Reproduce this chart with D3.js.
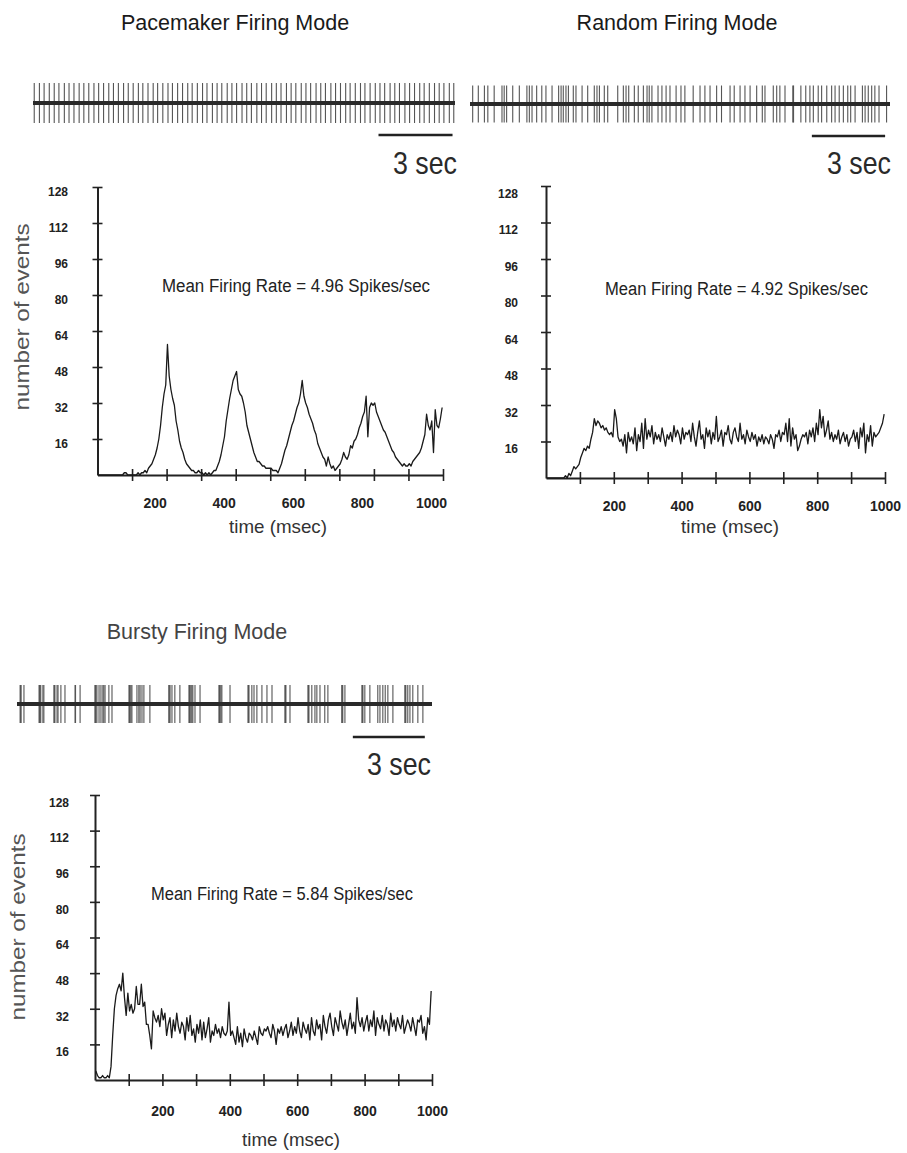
<!DOCTYPE html>
<html><head><meta charset="utf-8">
<script src="https://cdn.jsdelivr.net/npm/d3@7"></script>
<style>
body{margin:0;background:#fff}
svg{display:block}
text{font-family:'Liberation Sans',Arial,Helvetica,sans-serif;fill:#222}
</style>
</head><body>
<svg id="c" width="907" height="1153"></svg>
<script>
// ---------- DATA ----------
const titles = ["Pacemaker Firing Mode", "Random Firing Mode", "Bursty Firing Mode"];
const rateLabels = ["Mean Firing Rate = 4.96 Spikes/sec", "Mean Firing Rate = 4.92 Spikes/sec", "Mean Firing Rate = 5.84 Spikes/sec"];
const yTickValues = [16, 32, 48, 64, 80, 96, 112, 128];
const xTickValues = [100, 200, 300, 400, 500, 600, 700, 800, 900, 1000];
const xTickLabels = [200, 400, 600, 800, 1000];
const scaleBarSec = [14, 17];
const scaleBarLabel = "3 sec";
const xAxisTitle = "time (msec)";
const yAxisTitle = "number of events";

// spike times (seconds)
const pacemakerSpikes = [0.05,0.26,0.45,0.66,0.86,1.05,1.27,1.46,1.66,1.87,2.06,2.26,2.47,2.66,2.86,3.07,3.26,3.46,3.67,3.86,4.06,4.27,4.45,4.66,4.87,5.05,5.26,5.47,5.65,5.86,6.06,6.27,6.45,6.66,6.87,7.05,7.27,7.46,7.65,7.87,8.06,8.25,8.47,8.66,8.85,9.07,9.26,9.45,9.67,9.86,10.05,10.27,10.46,10.65,10.87,11.06,11.25,11.47,11.66,11.85,12.07,12.26,12.46,12.67,12.85,13.06,13.27,13.45,13.66,13.87,14.06,14.25,14.47,14.66,14.85,15.07,15.26,15.46,15.67,15.85,16.06,16.27,16.46,16.65,16.87,17.05];
const randomSpikes = [0.11,0.34,0.59,0.73,0.99,1.31,1.40,1.50,1.75,2.02,2.33,2.43,2.54,2.73,2.94,3.11,3.36,3.63,3.73,3.82,3.93,4.03,4.23,4.34,4.59,4.82,5.09,5.20,5.30,5.50,5.64,6.05,6.28,6.39,6.50,6.73,6.89,7.10,7.25,7.34,7.45,7.70,7.86,8.03,8.19,8.44,8.64,8.80,9.14,9.42,9.62,9.83,10.10,10.30,10.65,10.82,11.06,11.26,11.47,11.74,11.97,12.08,12.42,12.56,12.69,12.90,13.22,13.25,13.55,13.75,13.92,14.06,14.26,14.40,14.61,14.81,14.95,15.12,15.29,15.47,15.59,15.77,16.07,16.18,16.31,16.45,16.58,16.75,17.06];
const burstySpikes = [0.13,0.15,0.17,0.29,0.92,0.94,0.96,0.99,1.08,1.12,1.54,1.56,1.58,1.67,1.71,1.83,2.00,2.42,2.44,2.63,3.25,3.27,3.29,3.33,3.42,3.50,3.58,3.62,3.67,3.83,3.96,4.67,4.69,4.71,4.75,4.79,5.00,5.08,5.13,5.21,5.29,5.54,6.33,6.35,6.38,6.46,6.58,6.79,7.17,7.19,7.21,7.25,7.29,7.33,7.42,7.63,8.42,8.44,8.46,8.50,8.54,8.88,9.63,9.65,9.67,9.79,9.88,10.00,10.21,10.42,10.63,11.17,11.19,11.21,11.38,12.13,12.15,12.17,12.29,12.42,12.50,12.63,12.83,12.96,13.54,13.56,13.58,13.67,14.38,14.40,14.42,14.50,14.71,15.04,15.13,15.25,15.35,15.46,15.67,16.17,16.19,16.21,16.29,16.38,16.50,16.71,16.92];

// histogram counts, 5 ms bins from 0 to 1000 ms
const pacemakerCounts = [
0,0,0,0,0,0,0,0,0,0,0,0,0,0,0,1,1,0,0,0,
0,0,0,1,0,1,1,2,1,3,4,5,7,9,12,16,22,30,36,40,
58,44,38,34,31,24,20,15,12,10,7,5,4,3,2,2,1,1,2,1,
1,0,1,0,1,0,1,2,2,4,6,9,13,17,24,29,34,38,42,44,
46,38,36,35,32,28,22,19,16,13,10,8,6,6,5,4,4,3,3,3,
3,2,2,2,1,3,5,8,11,13,16,19,22,24,27,30,32,36,42,35,
32,30,27,25,23,20,18,14,12,10,8,7,4,8,5,3,4,2,3,4,
5,7,10,8,7,9,13,12,15,16,18,21,23,26,28,35,17,30,32,31,
32,28,26,24,22,20,19,17,15,13,11,10,8,7,6,5,4,5,4,4,
5,4,6,7,8,9,10,12,15,18,27,22,20,24,10,29,22,21,25,30];
const randomCounts = [
0,0,0,0,0,0,0,0,0,0,0,1,0,2,1,3,5,4,5,6,
9,11,13,12,14,13,17,20,26,23,25,24,22,23,21,22,20,19,20,18,
30,26,18,16,17,14,19,11,20,16,18,15,22,12,19,16,24,13,26,17,
21,18,23,15,20,17,19,16,22,18,14,19,17,20,16,23,18,21,19,15,
22,17,20,19,21,16,24,18,14,20,25,17,19,13,22,18,21,15,20,17,
27,16,18,21,14,20,19,23,17,15,20,22,18,16,24,17,19,15,21,18,
16,20,17,19,14,18,16,19,15,18,17,15,19,17,13,19,18,21,16,20,
19,24,16,26,14,22,17,19,12,14,17,19,18,20,15,21,18,22,16,24,
19,30,22,27,18,21,25,17,20,16,19,17,21,15,18,20,16,19,14,17,
18,21,16,20,13,22,18,24,11,19,16,23,14,20,18,19,20,22,24,28];
const burstyCounts = [
4,2,1,1,2,1,1,2,1,6,20,32,38,41,43,40,48,37,29,39,
31,34,30,32,42,34,34,43,33,35,25,25,20,14,31,28,26,29,24,32,
27,30,20,25,28,19,27,22,30,24,21,26,24,18,28,22,29,20,23,17,
25,21,27,18,26,19,23,28,17,22,20,25,21,23,19,24,21,20,22,35,
20,22,19,16,24,17,21,15,23,19,17,21,20,18,22,19,16,24,21,20,
23,22,24,21,19,25,22,16,23,21,24,20,23,25,19,22,26,20,24,21,
28,22,19,26,23,21,25,18,28,22,20,27,23,25,18,29,24,21,27,30,
24,20,28,25,22,31,26,23,27,20,25,30,23,26,21,37,27,24,28,22,
26,29,22,27,24,31,20,28,25,23,29,22,27,25,20,30,24,27,22,28,
25,23,29,21,24,27,25,22,28,24,20,27,26,29,21,24,18,28,25,40];
const binWidthMs = 5;

const spikeSets = [pacemakerSpikes, randomSpikes, burstySpikes];
const countSets = [pacemakerCounts, randomCounts, burstyCounts];

// ---------- LAYOUT ----------
const layout = [
  {title:[235,30,21.5], train:{x0:33,x1:455,y:103,h:20,dur:17.1}, barY:135, sec:[457,174],
   hist:{x0:97.5,x1:443,yb:475,yt:187}, yPad:24.5, yDy:4, xPad:17, xDx:-12,
   rate:[162,292,268], time:[278,533], yTitle:[29,317]},
  {title:[677,30,21.5], train:{x0:470,x1:890,y:104,h:18.5,dur:17.2}, barY:136, sec:[891,174],
   hist:{x0:546,x1:885,yb:478,yt:186}, yPad:23, yDy:7, xPad:17, xDx:0,
   rate:[605,295,263], time:[730,533], yTitle:null},
  {title:[197,639,21.5], train:{x0:17,x1:432,y:704,h:19,dur:17.3}, barY:737, sec:[431,775],
   hist:{x0:95,x1:432,yb:1080,yt:795}, yPad:21, yDy:7, xPad:20, xDx:0,
   rate:[151,900,262], time:[291,1146], yTitle:[25,927]}
];

const svg = d3.select("#c");

layout.forEach((L, i) => {
  const g = svg.append("g");
  // title
  g.append("text").attr("x", L.title[0]).attr("y", L.title[1])
    .attr("text-anchor", "middle").style("font-size", L.title[2] + "px")
    .style("fill", i === 2 ? "#444" : "#1a1a1a").text(titles[i]);

  // spike train
  const tx = d3.scaleLinear().domain([0, L.train.dur]).range([L.train.x0, L.train.x1]);
  g.append("g").selectAll("line").data(spikeSets[i]).join("line")
    .attr("x1", d => tx(d)).attr("x2", d => tx(d))
    .attr("y1", L.train.y - L.train.h).attr("y2", L.train.y + L.train.h)
    .attr("stroke", "#555").attr("stroke-width", 1.1);
  g.append("line").attr("x1", tx(0)).attr("x2", tx(L.train.dur))
    .attr("y1", L.train.y).attr("y2", L.train.y)
    .attr("stroke", "#2a2a2a").attr("stroke-width", 4);
  // scale bar
  g.append("line").attr("x1", tx(scaleBarSec[0])).attr("x2", tx(scaleBarSec[1]))
    .attr("y1", L.barY).attr("y2", L.barY)
    .attr("stroke", "#222").attr("stroke-width", 2.5);
  g.append("text").attr("x", L.sec[0]).attr("y", L.sec[1]).attr("text-anchor", "end")
    .attr("textLength", 64).attr("lengthAdjust", "spacingAndGlyphs")
    .style("font-size", "32px").style("fill", "#2a2a2a").text(scaleBarLabel);

  // histogram scales
  const x = d3.scaleLinear().domain([0, 1000]).range([L.hist.x0, L.hist.x1]);
  const y = d3.scaleLinear().domain([0, 128]).range([L.hist.yb, L.hist.yt]);

  // y axis
  const ya = g.append("g").attr("transform", `translate(${L.hist.x0},0)`)
    .call(d3.axisLeft(y).tickValues(yTickValues).tickSize(5).tickSizeOuter(0)
      .tickPadding(L.yPad).tickFormat(d3.format("d")));
  ya.select(".domain").attr("stroke", "#222").attr("stroke-width", 2);
  ya.selectAll(".tick line").attr("x1", -5).attr("x2", 5).attr("stroke", "#222").attr("stroke-width", 1.6);
  ya.selectAll(".tick text").attr("dy", (L.yDy + 4.3) + "px")
    .style("font-size", "12px").style("font-weight", "bold").style("fill", "#222")
    .attr("font-family", null);

  // x axis
  const xa = g.append("g").attr("transform", `translate(0,${L.hist.yb})`)
    .call(d3.axisBottom(x).tickValues(xTickValues).tickSize(6).tickSizeOuter(0)
      .tickPadding(L.xPad).tickFormat(d => xTickLabels.includes(d) ? d : ""));
  xa.select(".domain").attr("stroke", "#222").attr("stroke-width", 2);
  xa.selectAll(".tick line").attr("y1", -6).attr("y2", 6).attr("stroke", "#222").attr("stroke-width", 1.6);
  xa.selectAll(".tick text").attr("dx", L.xDx)
    .style("font-size", "14px").style("font-weight", "bold").style("fill", "#222");

  // histogram line
  const pts = countSets[i].map((v, k) => ({t: k * binWidthMs + binWidthMs / 2, v}));
  g.append("path").datum(pts)
    .attr("d", d3.line().x(d => x(d.t)).y(d => y(d.v)).curve(d3.curveLinear))
    .attr("fill", "none").attr("stroke", "#1a1a1a").attr("stroke-width", 1.3)
    .attr("stroke-linejoin", "round");

  // labels
  g.append("text").attr("x", L.rate[0]).attr("y", L.rate[1])
    .attr("textLength", L.rate[2]).attr("lengthAdjust", "spacingAndGlyphs")
    .style("font-size", "18px").text(rateLabels[i]);
  g.append("text").attr("x", L.time[0]).attr("y", L.time[1]).attr("text-anchor", "middle")
    .attr("textLength", 98).attr("lengthAdjust", "spacingAndGlyphs")
    .style("font-size", "19px").style("fill", "#333").text(xAxisTitle);
  if (L.yTitle) {
    g.append("text").attr("transform", `translate(${L.yTitle[0]},${L.yTitle[1]}) rotate(-90)`)
      .attr("text-anchor", "middle").attr("textLength", 187).attr("lengthAdjust", "spacingAndGlyphs")
      .style("font-size", "21px").style("fill", "#555").text(yAxisTitle);
  }
});
</script>
</body></html>
